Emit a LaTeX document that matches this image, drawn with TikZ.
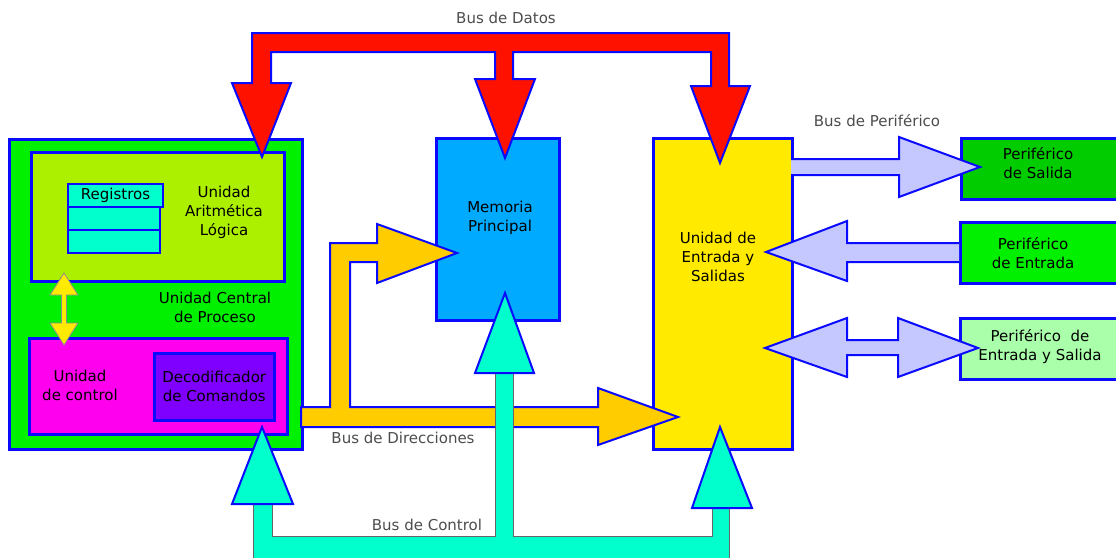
\documentclass[tikz,border=0pt]{standalone}
\usepackage{fontspec}
\setmainfont{DejaVu Sans}
\usepackage{tikz}
\usetikzlibrary{positioning}

\definecolor{borde}{RGB}{10,10,255}
\definecolor{verdecpu}{RGB}{0,240,0}
\definecolor{lima}{RGB}{172,240,0}
\definecolor{aguamarina}{RGB}{0,255,204}
\definecolor{magenta}{RGB}{255,0,238}
\definecolor{violeta}{RGB}{128,0,255}
\definecolor{azulmem}{RGB}{0,170,255}
\definecolor{amarillo}{RGB}{255,234,0}
\definecolor{rojo}{RGB}{255,17,0}
\definecolor{naranja}{RGB}{255,204,0}
\definecolor{lavanda}{RGB}{196,200,255}
\definecolor{verdeosc}{RGB}{0,204,0}
\definecolor{verdeclaro}{RGB}{170,255,170}

\tikzset{
  caja/.style={
    rectangle,
    draw=borde, line width=2.5pt,
    anchor=north west,
    inner sep=0pt},
  texto/.style={
    align=center,
    font=\fontsize{15}{19}\selectfont},
  etiqueta/.style={
    texto, text=black!70},
  bus/.style={draw=borde, line width=2pt},
}

\begin{document}
\begin{tikzpicture}[
    x=1pt, y=-1pt,
    bus datos/.style={bus, fill=rojo},
    bus dir/.style={bus, fill=naranja},
    bus ctrl/.style={draw=black!60, line width=0.8pt, fill=aguamarina},
    punta ctrl/.style={bus, fill=aguamarina},
    bus per/.style={bus, fill=lavanda}
    ]

    \useasboundingbox (0,0) rectangle (1116,557);
    \clip (0,0) rectangle (1116,557);

    %unidad central
    \node[caja, fill=verdecpu, minimum width=293, minimum height=310]
        (cpu) at (8,138) {};
    \node[caja, fill=lima, minimum width=253, minimum height=129]
        (alu) at (30,151) {};
    \node[caja, fill=aguamarina, line width=2pt, minimum width=95,
        minimum height=23] (reg1) at (67,183) {};
    \node[caja, fill=aguamarina, line width=2pt, minimum width=92,
        minimum height=23] (reg2) at (67,206) {};
    \node[caja, fill=aguamarina, line width=2pt, minimum width=92,
        minimum height=23] (reg3) at (67,229) {};
    \node[texto] (reglbl) at (reg1.center) {Registros};
    \node[texto] (alulbl) at (224,212) {Unidad\\Aritmética\\Lógica};
    \node[texto] (cpulbl) at (215,307) {Unidad Central\\de Proceso};
    \node[caja, fill=magenta, minimum width=258, minimum height=96]
        (uc) at (28,337) {};
    \node[caja, fill=violeta, minimum width=120, minimum height=67]
        (deco) at (153,352) {};
    \node[texto] (uclbl) at (80,385) {Unidad\\de control};
    \node[texto] (decolbl) at (deco.center) {Decodificador\\de Comandos};

    %alu <-> uc
    \filldraw[draw=black!45, line width=0.8pt, fill=amarillo]
        (64,273) -- (78,295) -- (66.5,295) -- (66.5,323) -- (78,323)
        -- (64,345) -- (50,323) -- (61.5,323) -- (61.5,295) -- (50,295)
        -- cycle;

    %memoria y entrada/salida
    \node[caja, fill=azulmem, minimum width=123, minimum height=182]
        (mem) at (435,137) {};
    \node[texto] (memlbl) at (500,218) {Memoria\\Principal};
    \node[caja, fill=amarillo, minimum width=139, minimum height=311]
        (es) at (652,137) {};
    \node[texto] (eslbl) at (718,257) {Unidad de\\Entrada y\\Salidas};

    %perifericos
    \node[caja, fill=verdeosc, minimum width=170, minimum height=61]
        (psal) at (960,137) {};
    \node[texto] (psallbl) at (1038,163) {Periférico\\de Salida};
    \node[caja, fill=verdecpu, minimum width=170, minimum height=61]
        (pent) at (959,221) {};
    \node[texto] (pentlbl) at (1033,253) {Periférico\\de Entrada};
    \node[caja, fill=verdeclaro, minimum width=170, minimum height=61]
        (pes) at (959,317) {};
    \node[texto] (peslbl) at (1040,347) {Periférico~~de\\Entrada y Salida};

    %bus de datos
    \filldraw[bus datos] (252,83) -- (252,33) -- (729,33) -- (729,86)
        -- (750,86) -- (720,163) -- (691,86) -- (711,86) -- (711,52)
        -- (513,52) -- (513,79) -- (535,79) -- (505,158) -- (475,79)
        -- (495,79) -- (495,52) -- (271,52) -- (271,83) -- (291,83)
        -- (262,157) -- (232,83) -- cycle;

    %bus de direcciones
    \filldraw[bus dir] (301,407) -- (330,407) -- (330,243) -- (377,243)
        -- (377,224) -- (457,253) -- (377,283) -- (377,262) -- (350,262)
        -- (350,407) -- (598,407) -- (598,388) -- (678,417) -- (598,445)
        -- (598,427) -- (301,427) -- cycle;

    %bus de control
    \filldraw[bus ctrl] (253,565) -- (253,504) -- (272,504) -- (272,536)
        -- (495,536) -- (495,373) -- (513,373) -- (513,536) -- (712,536)
        -- (712,508) -- (729,508) -- (729,565) -- cycle;
    \filldraw[punta ctrl] (232,504) -- (262,427) -- (293,504) -- cycle;
    \filldraw[punta ctrl] (475,373) -- (505,293) -- (534,373) -- cycle;
    \filldraw[punta ctrl] (692,508) -- (720,427) -- (752,508) -- cycle;

    %bus de periferico
    \filldraw[bus per] (791,159) -- (899,159) -- (899,137) -- (980,167)
        -- (899,197) -- (899,175) -- (791,175);
    \filldraw[bus per] (959,243) -- (847,243) -- (847,221) -- (766,252)
        -- (847,281) -- (847,262) -- (959,262);
    \filldraw[bus per] (765,348) -- (847,318) -- (847,340) -- (898,340)
        -- (898,318) -- (978,348) -- (898,377) -- (898,355) -- (847,355)
        -- (847,377) -- cycle;

    %nombres de los buses
    \node[etiqueta] (datoslbl) at (506,18) {Bus de Datos};
    \node[etiqueta] (perlbl) at (877,121) {Bus de Periférico};
    \node[etiqueta] (dirlbl) at (403,438) {Bus de Direcciones};
    \node[etiqueta] (ctrllbl) at (427,525) {Bus de Control};

\end{tikzpicture}
\end{document}
